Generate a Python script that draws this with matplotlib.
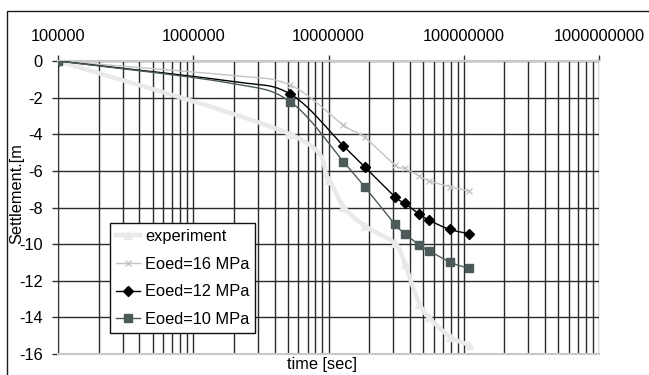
import numpy as np
import matplotlib
matplotlib.use("Agg")
import matplotlib.pyplot as plt
from matplotlib.lines import Line2D
from matplotlib.patches import Rectangle
from matplotlib.ticker import FixedLocator, FuncFormatter, NullFormatter

plt.rcParams['font.family'] = ['Liberation Sans', 'DejaVu Sans']

# ---- data ----
time_exp = [1e5, 5.2e6, 1.0e7, 1.29e7, 1.85e7, 3.1e7, 3.67e7, 4.69e7, 5.52e7, 7.9e7, 1.09e8]
experiment = [0, -4.0, -6.5, -7.95, -9.0, -9.96, -11.1, -13.25, -14.0, -15.05, -15.5]

time_calc = [1e5, 1.78e6, 5.2e6, 1.29e7, 1.85e7, 3.1e7, 3.67e7, 4.69e7, 5.52e7, 7.9e7, 1.09e8]
eoed16 = [0, -0.77, -1.31, -3.50, -4.17, -5.68, -5.87, -6.28, -6.54, -6.87, -7.10]
eoed12 = [0, -1.08, -1.80, -4.64, -5.78, -7.41, -7.78, -8.36, -8.69, -9.20, -9.42]
eoed10 = [0, -1.18, -2.22, -5.50, -6.87, -8.91, -9.42, -10.05, -10.36, -10.98, -11.33]
calc_marker_idx = [0, 2, 3, 4, 5, 6, 7, 8, 9, 10]

labels = ['experiment', 'Eoed=16 MPa', 'Eoed=12 MPa', 'Eoed=10 MPa']
x_ticks = [1e5, 1e6, 1e7, 1e8, 1e9]
y_ticks = [0, -2, -4, -6, -8, -10, -12, -14, -16]


def smooth(x, y, n=24):
    """Excel-like smoothed line (uniform Catmull-Rom in screen space: log x, y)."""
    P = np.column_stack([np.log10(x), np.asarray(y, float)])
    P = np.vstack([P[0], P, P[-1]])
    t = np.linspace(0, 1, n, endpoint=False)[:, None]
    out = []
    for i in range(1, len(P) - 2):
        p0, p1, p2, p3 = P[i - 1], P[i], P[i + 1], P[i + 2]
        c = 0.5 * (2 * p1 + (-p0 + p2) * t + (2 * p0 - 5 * p1 + 4 * p2 - p3) * t ** 2
                   + (-p0 + 3 * p1 - 3 * p2 + p3) * t ** 3)
        out.append(c)
    out.append(P[-2][None])
    out = np.vstack(out)
    return 10 ** out[:, 0], out[:, 1]


W, H = 649, 375
fig = plt.figure(figsize=(W / 100, H / 100), dpi=100)
L, R, T, B = 58, 599, 61, 354
ax = fig.add_axes([L / W, 1 - B / H, (R - L) / W, (B - T) / H])

ax.set_xscale('log')
ax.set_xlim(1e5, 1e9)
ax.set_ylim(-16, 0)

# grid
minor = [m * 10 ** e for e in range(5, 9) for m in range(2, 10)]
ax.xaxis.set_major_locator(FixedLocator(x_ticks))
ax.xaxis.set_minor_locator(FixedLocator(minor))
ax.xaxis.set_minor_formatter(NullFormatter())
ax.xaxis.set_major_formatter(FuncFormatter(lambda v, p: f"{int(round(v))}"))
ax.yaxis.set_major_locator(FixedLocator(y_ticks))
ax.yaxis.set_major_formatter(FuncFormatter(lambda v, p: f"{int(round(v))}"))
ax.grid(which='major', axis='both', color='#2a2a2a', lw=1.0, zorder=0)
ax.grid(which='minor', axis='x', color='#2a2a2a', lw=1.0, zorder=0)
ax.set_axisbelow(True)

ax.xaxis.tick_top()
ax.tick_params(axis='x', which='major', direction='out', length=4, width=1,
               color='#333333', labelsize=11.8, pad=8, top=True, bottom=False)
ax.tick_params(axis='x', which='minor', length=0, top=False, bottom=False)
ax.tick_params(axis='y', which='major', direction='out', length=4, width=1,
               color='#333333', labelsize=11.8, pad=7)

for s in ['top', 'bottom']:
    ax.spines[s].set_color('#c8c8c8')
    ax.spines[s].set_linewidth(1.5)
ax.spines['right'].set_color('#f2f2f2')
ax.spines['left'].set_color('#333333')

c_exp, c16, c12, c10 = '#e9e9e9', '#c4c4c4', '#000000', '#4d5a5a'

# experiment
sx, sy = smooth(time_exp, experiment)
ax.plot(sx, sy, color=c_exp, lw=3.2, zorder=3, solid_capstyle='round')
ax.plot(time_exp, experiment, ls='none', marker='^', ms=6, color=c_exp, zorder=3)

# calculated series
styles = [(eoed16, c16, 'x', 5, 1.0), (eoed12, c12, 'D', 5, 1.0), (eoed10, c10, 's', 6, 1.0)]
for k, (vals, col, mk, ms, lw) in enumerate(styles):
    sx, sy = smooth(time_calc, vals)
    ax.plot(sx, sy, color=col, lw=lw, zorder=4 + k)
    mx = [time_calc[i] for i in calc_marker_idx]
    my = [vals[i] for i in calc_marker_idx]
    ax.plot(mx, my, ls='none', marker=mk, ms=ms, color=col, mew=1.0, zorder=4 + k)

handles = [
    Line2D([], [], color=c_exp, lw=3.2, marker='^', ms=6),
    Line2D([], [], color=c16, lw=1.0, marker='x', ms=5),
    Line2D([], [], color=c12, lw=1.0, marker='D', ms=5),
    Line2D([], [], color=c10, lw=1.0, marker='s', ms=6),
]
leg = fig.legend(handles, labels, loc='upper left',
                 bbox_to_anchor=(110 / W, 1 - 223 / H), bbox_transform=fig.transFigure,
                 fontsize=11.8, frameon=True, fancybox=False, framealpha=1,
                 edgecolor='#111111', borderpad=0.35, labelspacing=0.78,
                 handlelength=1.5, handletextpad=0.3, borderaxespad=0)
leg.get_frame().set_linewidth(1.0)
leg.set_zorder(10)

fig.text(322 / W, 1 - 365 / H, 'time [sec]', ha='center', va='center', fontsize=11.8)
fig.text(17 / W, 1 - 194 / H, 'Settlement.[m', ha='center', va='center',
         rotation=90, fontsize=11.8)

fig.add_artist(Rectangle((7 / W, -0.2), 1.2, 0.2 + 1 - 11 / H, transform=fig.transFigure,
                         fill=False, edgecolor='#1a1a1a', lw=1.0))

fig.savefig('out.png', dpi=100, facecolor='white')
